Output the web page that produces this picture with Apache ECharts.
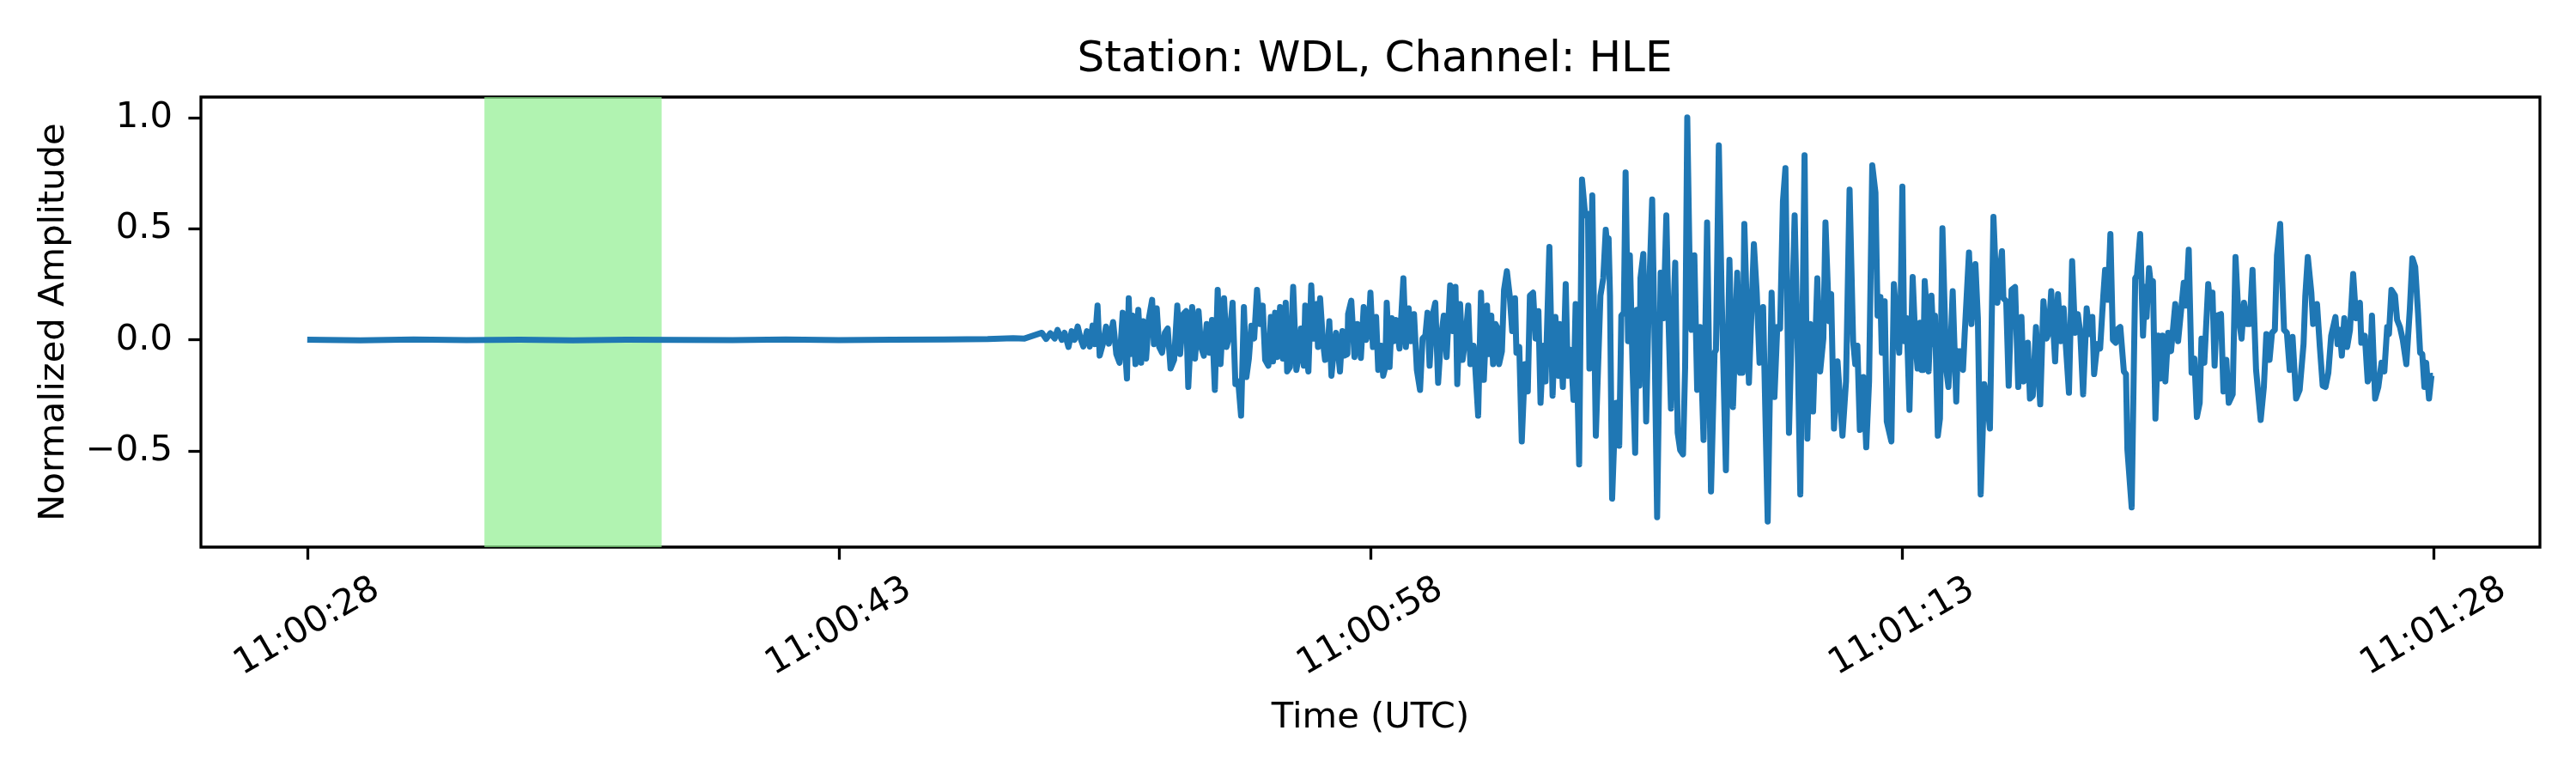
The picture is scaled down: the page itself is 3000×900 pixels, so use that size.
<!DOCTYPE html>
<html>
<head>
<meta charset="utf-8">
<title>Station: WDL, Channel: HLE</title>
<script src="https://cdn.jsdelivr.net/npm/echarts@6/dist/echarts.min.js"></script>
<style>
  html, body { margin: 0; padding: 0; background: #fff; }
  #chart { width: 3000px; height: 900px; }
</style>
</head>
<body>
<div id="chart"></div>
<script>
// seconds after 11:00:28 UTC
var tickSeconds = [0, 15, 30, 45, 60];
var tickLabels = ['11:00:28', '11:00:43', '11:00:58', '11:01:13', '11:01:28'];
var yTicks = [-0.5, 0, 0.5, 1.0];

// highlighted window (seconds)
var spanStart = 5;
var spanEnd = 10;

// trace: time (s) and normalized amplitude
var traceTime = [
  // quiet part
  0, 1.5, 3, 4.5, 6, 7.5, 9, 10.5, 12, 13.5, 15, 16.5, 18, 19.2,
  // onset
  19.92, 20.24, 20.73, 20.85, 20.97, 21.09, 21.17, 21.29, 21.37, 21.48,
  21.57, 21.65, 21.74, 21.82, 21.90, 22.00, 22.08, 22.16, 22.22, 22.30,
  22.36, 22.46, 22.54, 22.62, 22.74, 22.83, 22.92, 23.01, 23.08, 23.13,
  23.18, 23.23, 23.29, 23.37, 23.45, 23.53, 23.59, 23.67, 23.75, 23.84,
  23.89, 23.97, 24.04, 24.12, 24.20, 24.28, 24.36, 24.46, 24.55, 24.63,
  24.72, 24.80, 24.86, 24.97, 25.05, 25.15, 25.22, 25.30, 25.38, 25.46,
  25.53, 25.61, 25.69, 25.77, 25.87, 25.94, 26.03, 26.11, 26.19, 26.27,
  26.35, 26.43, 26.50, 26.57, 26.64, 26.72, 26.80, 26.88, 26.96, 27.03,
  27.12, 27.19, 27.25, 27.31, 27.37, 27.45, 27.53, 27.61, 27.65, 27.73,
  27.82, 27.91, 28.00, 28.04, 28.12, 28.16,
  // 28 - 36 s
  28.20, 28.25, 28.33, 28.40, 28.48, 28.52, 28.58, 28.66, 28.72, 28.78,
  28.84, 28.90, 28.96, 29.03, 29.09, 29.14, 29.21, 29.26, 29.35, 29.37,
  29.46, 29.55, 29.63, 29.73, 29.81, 29.88, 29.95, 30.00, 30.07, 30.16,
  30.22, 30.30, 30.36, 30.42, 30.46, 30.54, 30.60, 30.66, 30.72, 30.82,
  30.93, 31.00, 31.08, 31.14, 31.23, 31.31, 31.40, 31.47, 31.55, 31.61,
  31.67, 31.75, 31.83, 31.91, 31.99, 32.07, 32.15, 32.25, 32.32, 32.40,
  32.45, 32.53, 32.60, 32.68, 32.76, 32.82, 32.91, 32.96, 33.04, 33.12,
  33.20, 33.29, 33.34, 33.41, 33.46, 33.53, 33.59, 33.63, 33.71, 33.77,
  33.85, 33.93, 34.00, 34.08, 34.12, 34.20, 34.27, 34.36, 34.44, 34.50,
  34.59, 34.66, 34.74, 34.80, 34.88, 34.94, 35.05, 35.14, 35.22, 35.30,
  35.34, 35.43, 35.51, 35.57, 35.65, 35.73, 35.79, 35.89, 35.97, 36.06,
  36.14, 36.18, 36.26, 36.36,
  // 36 - 44.6 s
  36.49, 36.57, 36.64, 36.68, 36.72, 36.76, 36.82, 36.90, 36.94, 37.02,
  37.08, 37.15, 37.20, 37.27, 37.32, 37.40, 37.47, 37.52, 37.59, 37.62,
  37.70, 37.78, 37.85, 37.95, 38.01, 38.09, 38.19, 38.27, 38.35, 38.41,
  38.48, 38.54, 38.60, 38.67, 38.74, 38.82, 38.88, 38.94, 39.02, 39.06,
  39.14, 39.22, 39.30, 39.40, 39.50, 39.61, 39.71, 39.75, 39.83, 39.91,
  40.03, 40.13, 40.23, 40.35, 40.43, 40.50, 40.55, 40.68, 40.82, 40.90,
  40.98, 41.08, 41.21, 41.32, 41.40, 41.48, 41.56, 41.64, 41.71, 41.81,
  41.97, 42.05, 42.13, 42.25, 42.33, 42.41, 42.49, 42.61, 42.69, 42.78,
  42.84, 42.94, 43.00, 43.08, 43.18, 43.32, 43.42, 43.52, 43.62, 43.68,
  43.74, 43.81, 43.91, 43.99, 44.07, 44.16, 44.25, 44.31, 44.39, 44.43,
  44.51, 44.57,
  // 44.6 - 52.8 s
  44.70, 44.77, 44.83, 44.92, 44.96, 45.01, 45.06, 45.13, 45.21, 45.30,
  45.38, 45.44, 45.51, 45.55, 45.60, 45.64, 45.70, 45.75, 45.83, 45.89,
  45.93, 46.01, 46.07, 46.14, 46.25, 46.31, 46.37, 46.43, 46.53, 46.57,
  46.65, 46.72, 46.77, 46.89, 46.96, 47.02, 47.07, 47.14, 47.22, 47.32,
  47.40, 47.48, 47.58, 47.64, 47.69, 47.74, 47.82, 47.86, 47.94, 48.01,
  48.09, 48.19, 48.28, 48.37, 48.43, 48.49, 48.55, 48.61, 48.69, 48.78,
  48.90, 48.99, 49.08, 49.14, 49.21, 49.32, 49.40, 49.48, 49.56, 49.62,
  49.71, 49.80, 49.88, 49.96, 50.03, 50.11, 50.21, 50.29, 50.37, 50.42,
  50.51, 50.59, 50.68, 50.73, 50.81, 50.88, 50.95, 51.03, 51.10, 51.16,
  51.26, 51.32, 51.36, 51.48, 51.58, 51.63, 51.72, 51.80, 51.86, 51.90,
  51.97, 52.02, 52.08, 52.15, 52.23, 52.29, 52.35, 52.43, 52.51, 52.59,
  52.71, 52.79,
  // 52.8 - 60 s
  52.95, 53.01, 53.09, 53.17, 53.25, 53.32, 53.40, 53.45, 53.53, 53.64,
  53.70, 53.76, 53.82, 53.88, 54.00, 54.07, 54.15, 54.22, 54.33, 54.41,
  54.49, 54.58, 54.65, 54.73, 54.81, 54.89, 54.99, 55.12, 55.21, 55.28,
  55.37, 55.44, 55.52, 55.58, 55.67, 55.78, 55.86, 55.94, 56.02, 56.12,
  56.22, 56.33, 56.38, 56.45, 56.55, 56.60, 56.71, 56.79, 56.87, 56.95,
  57.03, 57.11, 57.23, 57.29, 57.35, 57.41, 57.48, 57.56, 57.64, 57.73,
  57.81, 57.92, 57.96, 58.06, 58.14, 58.20, 58.26, 58.35, 58.44, 58.53,
  58.61, 58.69, 58.74, 58.81, 58.91, 58.97, 59.05, 59.13, 59.23, 59.33,
  59.40, 59.48, 59.56, 59.62, 59.68, 59.74, 59.79, 59.87, 59.94, 59.98
];

var traceAmp = [
  0.001, -0.002, 0.002, -0.001, 0.001, -0.002, 0.001, 0.000, -0.001, 0.002, -0.001, 0.001, 0.002, 0.004,
  0.008, 0.006, 0.032, 0.004, 0.030, 0.006, 0.045, 0.000, 0.032, -0.032,
  0.039, 0.000, 0.060, 0.006, -0.030, 0.039, -0.030, 0.064, -0.019, 0.154,
  -0.071, -0.013, 0.060, -0.017, 0.080, -0.064, -0.103, 0.122, -0.051, -0.174,
  0.187, -0.064, 0.109, -0.109, 0.135, -0.103, 0.084, -0.084, 0.097, 0.180,
  -0.019, 0.142, -0.032, -0.058, 0.032, 0.051, -0.129, -0.090, 0.154, -0.064,
  0.116, 0.129, -0.212, 0.148, -0.084, 0.129, -0.032, -0.071, 0.071, -0.058,
  0.090, -0.225, 0.225, -0.109, 0.187, -0.032, 0.026, 0.167, -0.199, -0.187,
  -0.341, 0.148, -0.167, -0.084, 0.064, 0.006, 0.225, 0.071, 0.154, -0.090,
  -0.116, 0.103, -0.097, 0.122, -0.077, 0.148, -0.084, 0.167, -0.142, -0.122,
  0.238, -0.135, -0.051, 0.051, -0.116, 0.154,

  -0.084, -0.142, 0.245, 0.006, 0.161, -0.032, 0.187, -0.006, -0.090, -0.084,
  0.084, -0.161, -0.058, 0.032, -0.058, -0.142, 0.039, -0.071, -0.064, 0.116,
  0.176, -0.077, 0.071, -0.081, 0.148, 0.000, 0.045, 0.212, -0.032, 0.103,
  -0.135, -0.026, -0.161, -0.122, 0.167, -0.122, 0.097, -0.006, 0.090, -0.039,
  0.277, -0.032, 0.142, -0.006, 0.116, -0.135, -0.225, 0.006, 0.019, 0.122,
  -0.116, 0.109, 0.167, -0.193, 0.006, 0.109, -0.077, 0.245, 0.039, 0.238,
  -0.199, 0.161, -0.090, 0.006, 0.154, -0.109, -0.026, -0.129, -0.341, 0.212,
  -0.180, 0.154, -0.064, 0.109, -0.109, 0.071, 0.051, -0.109, -0.051, 0.225,
  0.309, 0.199, 0.039, 0.187, -0.058, -0.032, -0.457, -0.109, -0.232, 0.199,
  0.212, 0.006, 0.129, -0.283, -0.026, -0.187, 0.418, -0.251, 0.103, -0.161,
  0.071, -0.212, 0.251, -0.161, -0.045, -0.270, 0.161, -0.560, 0.721, 0.560,
  0.566, -0.129, 0.650, -0.431,

  0.199, 0.277, 0.495, 0.431, 0.457, 0.199, -0.714, -0.354, -0.283, -0.476,
  0.109, 0.122, 0.753, -0.006, 0.380, -0.135, -0.508, 0.135, -0.206, 0.277,
  0.386, -0.367, 0.148, 0.631, 0.071, -0.798, 0.302, 0.097, 0.560, 0.097,
  -0.309, 0.071, 0.347, -0.418, -0.496, -0.515, -0.122, 1.000, 0.199, 0.045,
  0.380, -0.225, 0.058, -0.450, 0.528, -0.682, -0.058, -0.045, 0.875, 0.199,
  -0.586, 0.360, -0.302, 0.302, -0.148, -0.148, 0.521, -0.193, 0.431, 0.212,
  -0.103, 0.148, -0.817, 0.212, -0.257, 0.058, 0.051, 0.624, 0.772, -0.418,
  0.560, 0.006, -0.695, 0.830, -0.444, 0.071, -0.322, 0.277, -0.142, 0.006,
  0.528, 0.084, 0.206, -0.399, -0.097, -0.431, -0.187, 0.676, -0.006, -0.109,
  -0.026, -0.405, -0.167, -0.483, -0.187, 0.785, 0.663, 0.109, 0.193, -0.058,
  0.174, -0.367,

  -0.457, 0.251, 0.122, -0.058, 0.148, 0.689, -0.006, 0.097, -0.315, 0.283,
  -0.019, -0.129, 0.077, -0.135, -0.135, 0.264, 0.122, -0.142, 0.199, -0.019,
  0.109, -0.431, -0.354, 0.502, -0.135, -0.212, -0.032, 0.219, -0.277, -0.051,
  -0.051, -0.135, 0.032, 0.393, 0.071, 0.199, 0.341, 0.097, -0.695, -0.199,
  -0.277, -0.399, 0.553, 0.315, 0.167, 0.277, 0.399, 0.187, 0.174, -0.206,
  0.225, 0.238, -0.212, 0.103, -0.187, -0.167, -0.013, -0.264, -0.251, 0.058,
  -0.290, 0.174, 0.006, 0.032, 0.219, -0.097, 0.206, -0.006, 0.142, -0.019,
  -0.238, 0.354, 0.032, 0.116, 0.032, -0.245, 0.142, 0.026, 0.103, -0.154,
  -0.019, -0.039, 0.199, 0.315, 0.180, 0.476, 0.000, -0.013, 0.051, 0.058,
  -0.142, -0.154, -0.495, -0.753, 0.277, 0.290, 0.476, 0.019, 0.238, 0.103,
  0.322, 0.251, 0.264, -0.354, 0.019, -0.174, 0.019, -0.187, 0.032, -0.051,
  0.161, -0.006,

  0.257, 0.154, 0.405, -0.148, -0.084, -0.347, -0.283, 0.006, -0.103, 0.251,
  0.148, 0.212, -0.116, 0.109, 0.116, -0.232, -0.090, -0.283, -0.245, 0.373,
  0.116, 0.006, 0.167, 0.071, 0.071, 0.315, -0.135, -0.360, -0.212, 0.026,
  -0.090, 0.032, 0.045, 0.380, 0.521, 0.045, 0.032, -0.135, 0.013, -0.264,
  -0.225, -0.019, 0.199, 0.373, 0.212, 0.071, 0.161, -0.032, -0.206, -0.212,
  -0.148, 0.019, 0.103, -0.019, 0.045, -0.071, 0.097, -0.032, 0.045, 0.296,
  0.097, 0.167, -0.013, 0.019, -0.187, -0.167, 0.109, -0.264, -0.212, -0.103,
  -0.142, 0.058, 0.026, 0.225, 0.199, 0.090, 0.058, 0.000, -0.109, 0.142,
  0.367, 0.328, 0.122, -0.058, -0.064, -0.212, -0.103, -0.264, -0.161, -0.161
];

var FONT = 'DejaVu Sans';
var fs = 41.7;

var points = traceTime.map(function (t, i) { return [t, traceAmp[i]]; });

var chart = echarts.init(document.getElementById('chart'), null, { renderer: 'canvas' });

var option = {
  animation: false,
  backgroundColor: '#fff',
  title: {
    text: 'Station: WDL, Channel: HLE',
    left: 1596,
    textAlign: 'center',
    top: 40,
    textStyle: { fontFamily: FONT, fontSize: 50, fontWeight: 'normal', color: '#000' }
  },
  grid: {
    left: 234, right: 42, top: 113, bottom: 263,
    show: true, borderColor: '#000', borderWidth: 3.3, backgroundColor: 'transparent'
  },
  xAxis: {
    type: 'value',
    min: -3,
    max: 63,
    axisLine: { show: false, onZero: false },
    splitLine: { show: false },
    axisTick: {
      customValues: tickSeconds,
      length: 14.6,
      lineStyle: { color: '#000', width: 3.3 }
    },
    axisLabel: {
      customValues: tickSeconds,
      formatter: function (v) {
        var i = tickSeconds.indexOf(v);
        return i >= 0 ? tickLabels[i] : '';
      },
      rotate: 30,
      align: 'center',
      verticalAlign: 'middle',
      margin: 93,
      fontFamily: FONT,
      fontSize: fs,
      color: '#000'
    },
    name: 'Time (UTC)',
    nameLocation: 'middle',
    nameGap: 178,
    nameTextStyle: { fontFamily: FONT, fontSize: fs, color: '#000' }
  },
  yAxis: {
    type: 'value',
    min: -0.932,
    max: 1.092,
    axisLine: { show: false, onZero: false },
    splitLine: { show: false },
    axisTick: {
      customValues: yTicks,
      length: 14.6,
      lineStyle: { color: '#000', width: 3.3 }
    },
    axisLabel: {
      customValues: yTicks,
      formatter: function (v) {
        return (v < 0 ? '\u2212' : '') + Math.abs(v).toFixed(1);
      },
      margin: 33,
      fontFamily: FONT,
      fontSize: fs,
      color: '#000'
    },
    name: 'Normalized Amplitude',
    nameLocation: 'middle',
    nameRotate: 90,
    nameGap: 150,
    nameTextStyle: { fontFamily: FONT, fontSize: fs, color: '#000' }
  },
  series: [
    {
      type: 'line',
      data: points,
      showSymbol: false,
      symbol: 'none',
      lineStyle: { color: '#1f77b4', width: 7, join: 'round' },
      markArea: {
        silent: true,
        itemStyle: { color: 'rgba(144,238,144,0.7)' },
        data: [[{ xAxis: spanStart }, { xAxis: spanEnd }]]
      }
    }
  ]
};

chart.setOption(option);
</script>
</body>
</html>
